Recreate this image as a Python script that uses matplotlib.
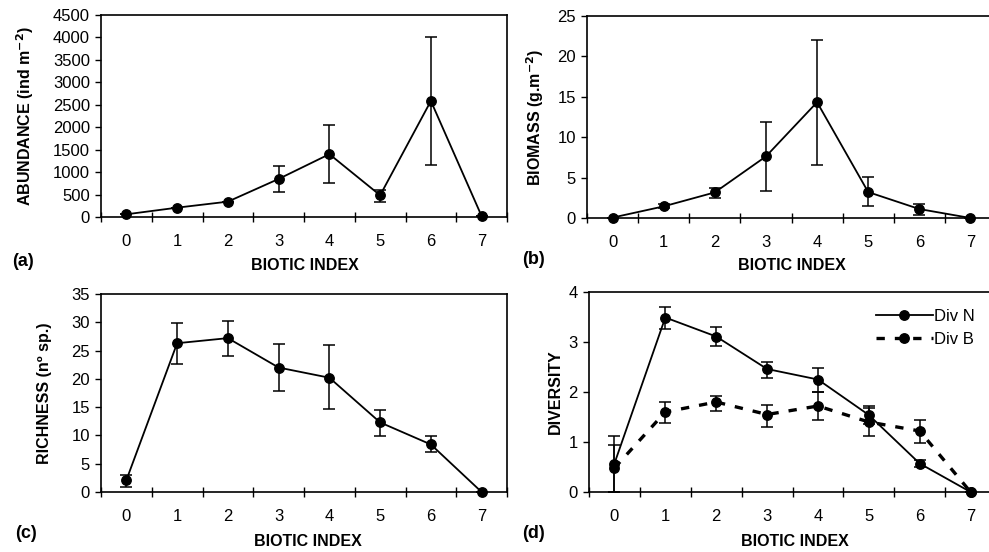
import matplotlib
matplotlib.use("Agg")
import matplotlib.pyplot as plt
from matplotlib.lines import Line2D
import numpy as np

plt.rcParams["font.family"] = ["Liberation Sans", "DejaVu Sans"]

biotic_index = [0, 1, 2, 3, 4, 5, 6, 7]

abundance = [60, 208, 342, 848, 1400, 484, 2585, 20]
abundance_lo = [60, 208, 342, 550, 750, 342, 1165, 20]
abundance_hi = [60, 208, 342, 1145, 2050, 603, 4000, 20]

biomass = [0.05, 1.44, 3.17, 7.62, 14.33, 3.21, 1.11, 0.0]
biomass_lo = [0.05, 1.2, 2.47, 3.34, 6.59, 1.48, 0.41, 0.0]
biomass_hi = [0.05, 1.7, 3.7, 11.86, 22.03, 5.02, 1.77, 0.0]

richness = [2.1, 26.3, 27.2, 22.0, 20.2, 12.3, 8.4, 0.0]
richness_lo = [0.95, 22.7, 24.0, 17.8, 14.6, 9.9, 7.0, 0.0]
richness_hi = [3.0, 29.8, 30.2, 26.2, 25.9, 14.5, 9.9, 0.0]

div_n = [0.57, 3.49, 3.11, 2.46, 2.25, 1.54, 0.57, 0.0]
div_n_lo = [0.0, 3.27, 2.92, 2.29, 2.0, 1.36, 0.5, 0.0]
div_n_hi = [1.12, 3.71, 3.31, 2.61, 2.48, 1.72, 0.64, 0.0]

div_b = [0.48, 1.60, 1.80, 1.55, 1.72, 1.40, 1.22, 0.0]
div_b_lo = [0.01, 1.38, 1.62, 1.30, 1.44, 1.12, 0.99, 0.0]
div_b_hi = [0.95, 1.80, 1.92, 1.74, 2.0, 1.68, 1.45, 0.0]

W, H = 989, 552
fig = plt.figure(figsize=(W / 100, H / 100), dpi=100)


def make_ax(l, r, t, b):
    return fig.add_axes([l / W, 1 - b / H, (r - l) / W, (b - t) / H])


def style(ax, ymax, ystep, ylabel, ylabel_x, tag, tag_x, tag_y, xlab_x, xlab_y):
    ax.set_xlim(-0.5, 7.5)
    ax.set_ylim(0, ymax)
    ax.set_yticks(np.arange(0, ymax + ystep / 2, ystep))
    ax.set_xticks(biotic_index)
    ax.set_xticks(np.arange(-0.5, 8, 1), minor=True)
    ax.tick_params(axis="x", which="major", length=0, pad=12, labelsize=12)
    ax.tick_params(axis="x", which="minor", direction="inout", length=7, width=1)
    ax.tick_params(axis="y", direction="out", length=4, width=1, labelsize=12, pad=4)
    for s in ax.spines.values():
        s.set_linewidth(1.2)
    pos = ax.get_position()
    fig.text(ylabel_x / W, (pos.y0 + pos.y1) / 2, ylabel, rotation=90, ha="center",
             va="center", fontsize=11.5, fontweight="bold")
    fig.text(tag_x / W, 1 - tag_y / H, tag, ha="left", va="center", fontsize=13, fontweight="bold")
    fig.text(xlab_x / W, 1 - xlab_y / H, "BIOTIC INDEX", ha="center", va="center",
             fontsize=11.5, fontweight="bold")


def series(ax, y, lo, hi, **kw):
    y = np.array(y); lo = np.array(lo); hi = np.array(hi)
    err = [y - lo, hi - y]
    ax.errorbar(biotic_index, y, yerr=err, color="black", marker="o", markersize=6.8,
                capsize=4, elinewidth=1.1, capthick=1.1, clip_on=False, zorder=3, **kw)


# (a)
ax = make_ax(101, 507, 15, 217)
series(ax, abundance, abundance_lo, abundance_hi, lw=1.3)
style(ax, 4500, 500, "ABUNDANCE (ind m$^{\\mathbf{-2}}$)", 25, "(a)", 12, 262, 305, 266)

# (b)
ax = make_ax(587, 996, 16, 218)
series(ax, biomass, biomass_lo, biomass_hi, lw=1.3)
style(ax, 25, 5, "BIOMASS (g.m$^{\\mathbf{-2}}$)", 535, "(b)", 522, 260, 792, 266)

# (c)
ax = make_ax(101, 507, 294, 492)
series(ax, richness, richness_lo, richness_hi, lw=1.3)
style(ax, 35, 5, "RICHNESS (n\u00ba sp.)", 45, "(c)", 15, 533, 308, 541)

# (d)
ax = make_ax(589, 996, 292, 492)
series(ax, div_n, div_n_lo, div_n_hi, lw=1.3)
series(ax, div_b, div_b_lo, div_b_hi, lw=2.4, ls=(0, (2.5, 3)))
style(ax, 4, 1, "DIVERSITY", 555, "(d)", 522, 533, 795, 541)
handles = [Line2D([], [], color="black", lw=1.3, marker="o", markersize=6.8),
           Line2D([], [], color="black", lw=2.4, ls=(0, (2.5, 3)), marker="o", markersize=6.8)]
ax.legend(handles, ["Div N", "Div B"], loc="upper right", bbox_to_anchor=(0.965, 0.95),
          borderaxespad=0, frameon=False, fontsize=12,
          handlelength=3.4, handletextpad=0.1, labelspacing=0.5)

fig.savefig("out.png", dpi=100)
